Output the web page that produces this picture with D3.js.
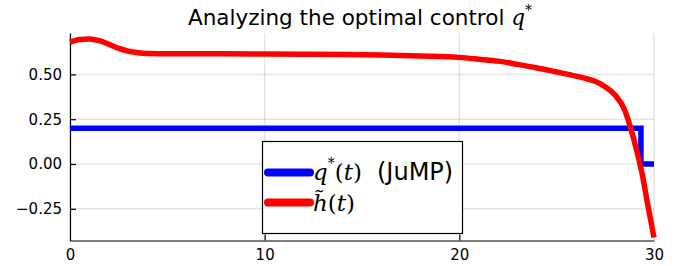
<!DOCTYPE html>
<html><head><meta charset="utf-8">
<script src="https://cdn.jsdelivr.net/npm/d3@7"></script>
<style>body{margin:0;background:#fff}svg{display:block}</style>
</head><body>
<svg id="c" width="690" height="266"></svg>
<script>
const xTicks = [0, 10, 20, 30];
const yTicks = [-0.25, 0, 0.25, 0.5];
const yTickLabels = ["\u22120.25", "0.00", "0.25", "0.50"];
const qT = [0, 29.33, 30];
const qV = [0.2, 0, 0];
const hT = [0, 0.5, 1, 1.5, 2, 2.5, 3, 3.5, 4, 5, 6, 8, 10, 12, 14, 16, 18, 20, 21, 22, 23, 24, 25, 26, 26.5, 27, 27.5, 28, 28.5, 28.8, 29.1, 29.4, 29.7, 30];
const hV = [0.68, 0.695, 0.698, 0.688, 0.668, 0.645, 0.630, 0.621, 0.617, 0.615, 0.615, 0.615, 0.614, 0.613, 0.611, 0.608, 0.603, 0.595, 0.585, 0.574, 0.556, 0.536, 0.513, 0.49, 0.477, 0.46, 0.43, 0.385, 0.30, 0.2, 0.08, -0.06, -0.24, -0.41];

const svg = d3.select("#c");
const L = 70, R = 654, T = 33, B = 240.5;
const x = d3.scaleLinear().domain([0, 30]).range([L, R]);
const y = d3.scaleLinear().domain([-0.427, 0.731]).range([B, T]);
const font = "DejaVu Sans";

// grid
const g = svg.append("g");
g.selectAll(".gx").data(xTicks).join("line")
  .attr("x1", d => x(d)).attr("x2", d => x(d)).attr("y1", T).attr("y2", B)
  .attr("stroke", "#000").attr("stroke-opacity", 0.1).attr("stroke-width", 1.5);
g.selectAll(".gy").data(yTicks).join("line")
  .attr("x1", L).attr("x2", R).attr("y1", d => y(d)).attr("y2", d => y(d))
  .attr("stroke", "#000").attr("stroke-opacity", 0.1).attr("stroke-width", 1.5);

// axes
const xAxis = d3.axisBottom(x).tickValues(xTicks).tickSizeInner(-6).tickSizeOuter(0).tickPadding(9);
const yAxis = d3.axisLeft(y).tickValues(yTicks).tickSizeInner(-6).tickSizeOuter(0).tickPadding(8)
  .tickFormat((d, i) => yTickLabels[i]);
const ax = svg.append("g").attr("transform", `translate(0,${B})`).call(xAxis);
const ay = svg.append("g").attr("transform", `translate(${L},0)`).call(yAxis);
[ax, ay].forEach(a => {
  a.select(".domain").attr("stroke", "#000").attr("stroke-width", 1.2);
  a.selectAll(".tick line").attr("stroke", "#000").attr("stroke-width", 1.2);
  a.selectAll("text").attr("font-family", font).attr("font-size", 15).attr("fill", "#000");
});
ax.selectAll(".tick").filter(d => d === 0 || d === 30).select("line").remove();

// lines
const qData = qT.map((t, i) => [t, qV[i]]);
const hData = hT.map((t, i) => [t, hV[i]]);
svg.append("path").datum(qData)
  .attr("d", d3.line().x(d => x(d[0])).y(d => y(d[1])).curve(d3.curveStepAfter))
  .attr("fill", "none").attr("stroke", "#0000ff").attr("stroke-width", 5.5).attr("stroke-linejoin", "miter");
svg.append("path").datum(hData)
  .attr("d", d3.line().x(d => x(d[0])).y(d => y(d[1])).curve(d3.curveMonotoneX))
  .attr("fill", "none").attr("stroke", "#ff0000").attr("stroke-width", 5.5).attr("stroke-linejoin", "round");

// title
const title = svg.append("text").attr("x", 360).attr("y", 25).attr("text-anchor", "middle")
  .attr("font-family", font).attr("font-size", 21.5).attr("fill", "#000");
title.append("tspan").text("Analyzing the optimal control ");
title.append("tspan").attr("font-family", "DejaVu Serif").attr("font-style", "italic").text("q");
title.append("tspan").attr("font-family", "DejaVu Serif").attr("font-size", 14).attr("dy", -10).text("*");

// legend
const lg = svg.append("g");
lg.append("rect").attr("x", 262.5).attr("y", 141.5).attr("width", 200).attr("height", 92)
  .attr("fill", "#fff").attr("stroke", "#000").attr("stroke-width", 1.2);
const items = [
  {color: "#0000ff", yy: 172.5},
  {color: "#ff0000", yy: 202.5}
];
lg.selectAll(".ll").data(items).join("line")
  .attr("x1", 268).attr("x2", 310).attr("y1", d => d.yy).attr("y2", d => d.yy)
  .attr("stroke", d => d.color).attr("stroke-width", 8).attr("stroke-linecap", "round");
const t1 = lg.append("text").attr("x", 313).attr("y", 180).attr("font-size", 23).attr("fill", "#000");
t1.append("tspan").attr("font-family", "DejaVu Serif").attr("font-style", "italic").text("q");
t1.append("tspan").attr("font-family", "DejaVu Serif").attr("font-size", 14).attr("dy", -12).text("*");
t1.append("tspan").attr("font-family", "DejaVu Serif").attr("dy", 12).text("(");
t1.append("tspan").attr("font-family", "DejaVu Serif").attr("font-style", "italic").text("t");
t1.append("tspan").attr("font-family", "DejaVu Serif").text(")");
t1.append("tspan").attr("font-family", font).attr("font-size", 24).attr("x", 377).text("(JuMP)");
const t2 = lg.append("text").attr("x", 313).attr("y", 211).attr("font-size", 23).attr("fill", "#000");
t2.append("tspan").attr("font-family", "DejaVu Serif").attr("font-style", "italic").text("h\u0303");
t2.append("tspan").attr("font-family", "DejaVu Serif").text("(");
t2.append("tspan").attr("font-family", "DejaVu Serif").attr("font-style", "italic").text("t");
t2.append("tspan").attr("font-family", "DejaVu Serif").text(")");
</script>
</body></html>
